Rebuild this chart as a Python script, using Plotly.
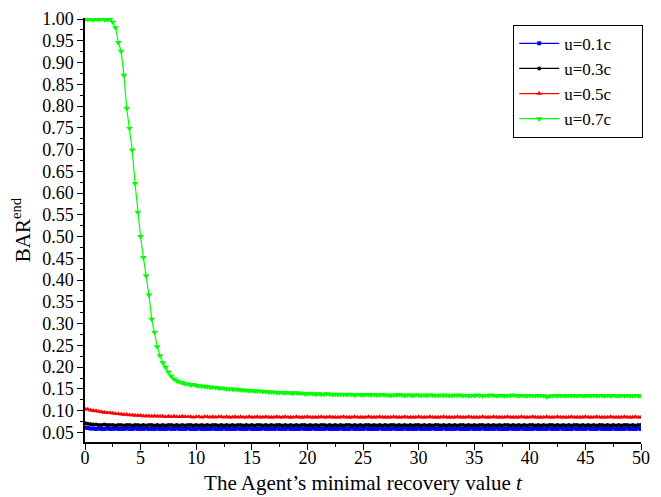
import plotly.graph_objects as go

t = [i * 0.25 for i in range(201)]

blue = [
0.061, 0.060, 0.059, 0.059, 0.058, 0.059, 0.058, 0.058, 0.059, 0.058, 0.058, 0.059, 0.058, 0.058, 0.058, 0.059, 0.058, 0.058, 0.059, 0.058,
0.058, 0.058, 0.059, 0.058, 0.058, 0.058, 0.059, 0.058, 0.058, 0.058, 0.059, 0.058, 0.058, 0.059, 0.058, 0.058, 0.058, 0.059, 0.058, 0.058,
0.058, 0.059, 0.058, 0.058, 0.058, 0.058, 0.059, 0.058, 0.058, 0.058, 0.059, 0.058, 0.058, 0.058, 0.058, 0.059, 0.058, 0.058, 0.058, 0.059,
0.058, 0.058, 0.058, 0.058, 0.059, 0.058, 0.058, 0.058, 0.058, 0.059, 0.058, 0.058, 0.058, 0.059, 0.058, 0.058, 0.058, 0.058, 0.059, 0.058,
0.058, 0.058, 0.059, 0.058, 0.058, 0.058, 0.058, 0.059, 0.058, 0.058, 0.058, 0.058, 0.059, 0.058, 0.058, 0.058, 0.059, 0.058, 0.058, 0.058,
0.058, 0.059, 0.058, 0.058, 0.058, 0.058, 0.059, 0.058, 0.058, 0.058, 0.058, 0.059, 0.058, 0.058, 0.058, 0.059, 0.058, 0.058, 0.058, 0.058,
0.059, 0.058, 0.058, 0.058, 0.058, 0.059, 0.058, 0.058, 0.058, 0.059, 0.058, 0.058, 0.058, 0.058, 0.059, 0.058, 0.058, 0.058, 0.058, 0.059,
0.058, 0.058, 0.058, 0.059, 0.058, 0.058, 0.058, 0.058, 0.059, 0.058, 0.058, 0.058, 0.058, 0.059, 0.058, 0.058, 0.058, 0.059, 0.058, 0.058,
0.058, 0.058, 0.059, 0.058, 0.058, 0.058, 0.058, 0.059, 0.058, 0.058, 0.058, 0.059, 0.058, 0.058, 0.058, 0.058, 0.059, 0.058, 0.058, 0.058,
0.058, 0.059, 0.058, 0.058, 0.058, 0.059, 0.058, 0.058, 0.058, 0.058, 0.059, 0.058, 0.058, 0.058, 0.058, 0.059, 0.058, 0.058, 0.058, 0.059,
0.058,
]

black = [
0.071, 0.070, 0.069, 0.068, 0.068, 0.067, 0.067, 0.068, 0.067, 0.067, 0.067, 0.066, 0.067, 0.067, 0.066, 0.067, 0.067, 0.066, 0.067, 0.067,
0.066, 0.067, 0.066, 0.067, 0.067, 0.066, 0.067, 0.066, 0.067, 0.066, 0.067, 0.067, 0.066, 0.067, 0.066, 0.067, 0.066, 0.067, 0.067, 0.066,
0.067, 0.066, 0.067, 0.066, 0.067, 0.066, 0.067, 0.067, 0.066, 0.067, 0.066, 0.067, 0.066, 0.067, 0.066, 0.067, 0.067, 0.066, 0.067, 0.066,
0.067, 0.066, 0.067, 0.067, 0.066, 0.067, 0.066, 0.067, 0.066, 0.067, 0.067, 0.066, 0.067, 0.066, 0.067, 0.066, 0.067, 0.066, 0.067, 0.067,
0.066, 0.067, 0.066, 0.067, 0.066, 0.067, 0.067, 0.066, 0.067, 0.066, 0.067, 0.066, 0.067, 0.066, 0.067, 0.067, 0.066, 0.067, 0.066, 0.067,
0.066, 0.067, 0.067, 0.066, 0.067, 0.066, 0.067, 0.066, 0.067, 0.066, 0.067, 0.067, 0.066, 0.067, 0.066, 0.067, 0.066, 0.067, 0.066, 0.067,
0.067, 0.066, 0.067, 0.066, 0.067, 0.066, 0.067, 0.067, 0.066, 0.067, 0.066, 0.067, 0.066, 0.067, 0.066, 0.067, 0.067, 0.066, 0.067, 0.066,
0.067, 0.066, 0.067, 0.067, 0.066, 0.067, 0.066, 0.067, 0.066, 0.067, 0.066, 0.067, 0.067, 0.066, 0.067, 0.066, 0.067, 0.066, 0.067, 0.066,
0.067, 0.067, 0.066, 0.067, 0.066, 0.067, 0.066, 0.067, 0.067, 0.066, 0.067, 0.066, 0.067, 0.066, 0.067, 0.066, 0.067, 0.067, 0.066, 0.067,
0.066, 0.067, 0.066, 0.067, 0.066, 0.067, 0.067, 0.066, 0.067, 0.066, 0.067, 0.066, 0.067, 0.066, 0.067, 0.067, 0.066, 0.067, 0.066, 0.067,
0.067,
]

red = [
0.104, 0.103, 0.101, 0.100, 0.099, 0.098, 0.097, 0.096, 0.095, 0.095, 0.094, 0.093, 0.093, 0.092, 0.091, 0.091, 0.090, 0.090, 0.089, 0.089,
0.089, 0.088, 0.088, 0.088, 0.087, 0.088, 0.087, 0.087, 0.087, 0.086, 0.087, 0.086, 0.087, 0.086, 0.086, 0.087, 0.086, 0.086, 0.086, 0.085,
0.086, 0.086, 0.085, 0.086, 0.086, 0.085, 0.086, 0.085, 0.086, 0.086, 0.085, 0.086, 0.085, 0.085, 0.086, 0.085, 0.086, 0.085, 0.085, 0.086,
0.085, 0.085, 0.086, 0.085, 0.085, 0.086, 0.085, 0.085, 0.085, 0.086, 0.085, 0.085, 0.086, 0.085, 0.085, 0.085, 0.086, 0.085, 0.085, 0.085,
0.086, 0.085, 0.085, 0.085, 0.085, 0.086, 0.085, 0.085, 0.086, 0.085, 0.085, 0.085, 0.085, 0.086, 0.085, 0.085, 0.085, 0.086, 0.085, 0.085,
0.085, 0.085, 0.086, 0.085, 0.085, 0.085, 0.086, 0.085, 0.085, 0.085, 0.085, 0.086, 0.085, 0.085, 0.085, 0.086, 0.085, 0.085, 0.085, 0.085,
0.086, 0.085, 0.085, 0.085, 0.086, 0.085, 0.085, 0.085, 0.085, 0.086, 0.085, 0.085, 0.085, 0.085, 0.086, 0.085, 0.085, 0.085, 0.086, 0.085,
0.085, 0.085, 0.085, 0.086, 0.085, 0.085, 0.085, 0.086, 0.085, 0.085, 0.085, 0.085, 0.086, 0.085, 0.085, 0.085, 0.085, 0.086, 0.085, 0.085,
0.085, 0.086, 0.085, 0.085, 0.085, 0.085, 0.086, 0.085, 0.085, 0.085, 0.086, 0.085, 0.085, 0.085, 0.085, 0.086, 0.085, 0.085, 0.085, 0.085,
0.086, 0.085, 0.085, 0.085, 0.086, 0.085, 0.085, 0.085, 0.085, 0.086, 0.085, 0.085, 0.085, 0.085, 0.086, 0.085, 0.085, 0.085, 0.086, 0.085,
0.085,
]

green = [
1.000, 0.999, 1.000, 0.998, 1.000, 0.999, 1.000, 0.999, 0.998, 0.999, 0.993, 0.980, 0.946, 0.926, 0.871, 0.795, 0.749, 0.699, 0.622, 0.556,
0.500, 0.452, 0.410, 0.366, 0.310, 0.280, 0.247, 0.226, 0.210, 0.200, 0.189, 0.179, 0.173, 0.169, 0.166, 0.164, 0.162, 0.161, 0.159, 0.160,
0.158, 0.157, 0.156, 0.156, 0.155, 0.154, 0.154, 0.153, 0.152, 0.152, 0.151, 0.150, 0.150, 0.149, 0.149, 0.148, 0.148, 0.147, 0.147, 0.146,
0.146, 0.145, 0.145, 0.145, 0.144, 0.144, 0.143, 0.143, 0.143, 0.142, 0.142, 0.142, 0.141, 0.141, 0.141, 0.140, 0.141, 0.140, 0.140, 0.139,
0.139, 0.140, 0.139, 0.138, 0.139, 0.138, 0.138, 0.139, 0.138, 0.137, 0.138, 0.137, 0.138, 0.137, 0.137, 0.138, 0.137, 0.136, 0.137, 0.137,
0.136, 0.137, 0.137, 0.136, 0.137, 0.136, 0.136, 0.137, 0.136, 0.136, 0.135, 0.136, 0.136, 0.137, 0.136, 0.135, 0.136, 0.136, 0.135, 0.136,
0.136, 0.135, 0.136, 0.135, 0.136, 0.136, 0.135, 0.135, 0.136, 0.135, 0.136, 0.135, 0.135, 0.136, 0.135, 0.136, 0.135, 0.135, 0.134, 0.135,
0.135, 0.136, 0.135, 0.134, 0.135, 0.135, 0.136, 0.135, 0.134, 0.135, 0.135, 0.134, 0.135, 0.135, 0.136, 0.135, 0.134, 0.135, 0.135, 0.134,
0.135, 0.135, 0.134, 0.135, 0.135, 0.134, 0.132, 0.133, 0.134, 0.135, 0.134, 0.135, 0.135, 0.134, 0.135, 0.134, 0.135, 0.134, 0.135, 0.135,
0.134, 0.135, 0.134, 0.135, 0.134, 0.135, 0.135, 0.134, 0.135, 0.134, 0.135, 0.134, 0.134, 0.135, 0.134, 0.135, 0.134, 0.134, 0.135, 0.134,
0.135,
]

series = [
    ("u=0.1c", blue, "#0000ff", "square", 4),
    ("u=0.3c", black, "#000000", "circle", 4),
    ("u=0.5c", red, "#ff0000", "triangle-up", 5),
    ("u=0.7c", green, "#00ff00", "triangle-down", 6),
]

y_ticks = [round(0.05 * k, 2) for k in range(1, 21)]
x_ticks = [0, 5, 10, 15, 20, 25, 30, 35, 40, 45, 50]

fig = go.Figure()
for name, ys, color, sym, size in series:
    fig.add_trace(go.Scatter(
        x=t, y=ys, name=name + "&nbsp;" * 6, mode="lines+markers",
        line=dict(color=color, width=1.2),
        marker=dict(symbol=sym, size=size, color=color, line=dict(width=0)),
    ))

font_family = "Liberation Serif"
fig.update_layout(
    width=661, height=497,
    margin=dict(l=85, r=20, t=18, b=55),
    paper_bgcolor="white", plot_bgcolor="white",
    font=dict(family=font_family, size=18, color="black"),
    showlegend=True,
    legend=dict(
        x=1.004, y=0.984, xanchor="right", yanchor="top",
        bgcolor="white", bordercolor="black", borderwidth=1,
        font=dict(family=font_family, size=17, color="black"),
        tracegroupgap=0, itemwidth=40,
    ),
)
fig.update_xaxes(
    range=[0, 50], tickvals=x_ticks, ticktext=[str(v) for v in x_ticks],
    ticks="outside", ticklen=6, tickwidth=1.2, tickcolor="black",
    minor=dict(dtick=2.5, tick0=0, ticks="outside", ticklen=3, tickcolor="black", tickwidth=1),
    showline=True, linecolor="black", linewidth=1.5,
    showgrid=False, zeroline=False, automargin=False,
    ticklabelstandoff=-7,
    tickfont=dict(family=font_family, size=18),
    title=dict(text="The Agent\u2019s minimal recovery value <i>t</i>",
               font=dict(family=font_family, size=21), standoff=8),
)
fig.update_yaxes(
    range=[0.028, 1.0023], tickvals=y_ticks, ticktext=["%.2f" % v for v in y_ticks],
    ticks="outside", ticklen=6, tickwidth=1.2, tickcolor="black",
    minor=dict(dtick=0.025, tick0=0, ticks="outside", ticklen=3, tickcolor="black", tickwidth=1),
    showline=True, linecolor="black", linewidth=1.5,
    showgrid=False, zeroline=False, automargin=False,
    tickfont=dict(family=font_family, size=18),
    title=dict(text="BAR<sup>end</sup>", font=dict(family=font_family, size=21), standoff=6),
)

fig.write_html("out.html", config={"displayModeBar": False},
               post_script="document.body.style.margin='0px';document.body.style.overflow='hidden';")
